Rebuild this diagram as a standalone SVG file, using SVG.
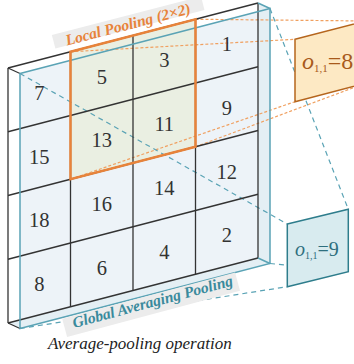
<svg xmlns="http://www.w3.org/2000/svg" width="354" height="364" viewBox="0 0 354 364">
<style>
.num{font-family:"Liberation Serif","Times New Roman",serif;font-size:20.5px;fill:#333;text-anchor:middle}
.grid{stroke:#333;stroke-width:1.3;fill:none}
.teal{stroke:#5aa3b5;stroke-width:1.5;fill:none}
.odash{stroke:#f0a060;stroke-width:1.2;stroke-dasharray:3 2;fill:none}
.tdash{stroke:#5aa3b5;stroke-width:1.2;stroke-dasharray:5 4;fill:none}
.lbl{font-family:"Liberation Serif","Times New Roman",serif;font-weight:bold;font-style:italic}
.band{fill:#ececec}
.serif{font-family:"Liberation Serif","Times New Roman",serif}
</style>
<g id="slab">
  <polygon points="20,73.5 270,8.5 270,263.5 20,328.5" fill="#edf3f8"/>
  <polygon points="258,3 270,8.5 270,263.5 258,258" fill="#e4eff4"/>
  <polygon points="8,323 258,258 270,263.5 20,328.5" fill="#e4eff4"/>
  <polygon points="70.5,51.75 195.5,19.25 195.5,146.75 70.5,179.25" fill="#eaefe2"/>
</g>
<g id="connectors">
  <line class="odash" x1="70.5" y1="51.75" x2="295" y2="39.3"/>
  <line class="odash" x1="195.5" y1="19.25" x2="366" y2="21"/>
  <line class="odash" x1="70.5" y1="179.25" x2="295" y2="101.7"/>
  <line class="odash" x1="195.5" y1="146.75" x2="366" y2="83"/>
  <line class="tdash" x1="20" y1="73.5" x2="287.3" y2="224"/>
  <line class="tdash" x1="270" y1="8.5" x2="348.3" y2="209.3"/>
  <line class="tdash" x1="270" y1="263.5" x2="348.3" y2="271.7"/>
  <line class="tdash" x1="20" y1="328.5" x2="287.3" y2="286.7"/>
</g>
<g id="grid">
  <g class="grid">
    <line x1="8" y1="68" x2="258" y2="3"/>
    <line x1="8" y1="131.75" x2="258" y2="66.75"/>
    <line x1="8" y1="195.5" x2="258" y2="130.5"/>
    <line x1="8" y1="259.25" x2="258" y2="194.25"/>
    <line x1="8" y1="323" x2="258" y2="258"/>
    <line x1="8" y1="68" x2="8" y2="323"/>
    <line x1="70.5" y1="51.75" x2="70.5" y2="306.75"/>
    <line x1="133" y1="35.5" x2="133" y2="290.5"/>
    <line x1="195.5" y1="19.25" x2="195.5" y2="274.25"/>
    <line x1="258" y1="3" x2="258" y2="258"/>
    <line x1="8" y1="68" x2="20" y2="73.5"/>
    <line x1="8" y1="323" x2="20" y2="328.5"/>
  </g>
  <g class="teal">
    <polygon points="20,73.5 270,8.5 270,263.5 20,328.5"/>
    <line x1="258" y1="3" x2="270" y2="8.5"/>
    <line x1="258" y1="258" x2="270" y2="263.5"/>
  </g>
  <polygon points="70.5,51.75 195.5,19.25 195.5,146.75 70.5,179.25" fill="none" stroke="#e8833a" stroke-width="2.5"/>
</g>
<g id="values">
  <text class="num" x="39.25" y="99.75">7</text>
  <text class="num" x="101.75" y="83.5">5</text>
  <text class="num" x="164.25" y="67.25">3</text>
  <text class="num" x="226.75" y="51">1</text>
  <text class="num" x="39.25" y="163.5">15</text>
  <text class="num" x="101.75" y="147.25">13</text>
  <text class="num" x="164.25" y="131">11</text>
  <text class="num" x="226.75" y="114.75">9</text>
  <text class="num" x="39.25" y="227.25">18</text>
  <text class="num" x="101.75" y="211">16</text>
  <text class="num" x="164.25" y="194.75">14</text>
  <text class="num" x="226.75" y="178.5">12</text>
  <text class="num" x="39.25" y="291">8</text>
  <text class="num" x="101.75" y="274.75">6</text>
  <text class="num" x="164.25" y="258.5">4</text>
  <text class="num" x="226.75" y="242.25">2</text>
</g>
<g id="local-label" transform="translate(67,45.5) rotate(-14.5)">
  <polygon class="band" points="-12,-14 142,-14 142,0 -12,0"/>
  <text class="lbl" x="0" y="0" font-size="15.5" fill="#e8833a">Local Pooling (2×2)</text>
</g>
<g id="global-label" transform="translate(74,328) rotate(-15)">
  <polygon class="band" points="-9,-12 170,-12 170,7 -9,7"/>
  <text class="lbl" x="0" y="0" font-size="15.5" fill="#3a8a9c">Global Averaging Pooling</text>
</g>
<g id="local-output">
  <polygon points="295,39.3 366,21 366,83 295,101.7" fill="#fde9c4" stroke="#b5651d" stroke-width="1.5"/>
  <text class="serif" x="302" y="69" font-size="24" fill="#a85a1c"><tspan font-style="italic">o</tspan><tspan font-size="11" dy="3">1,1</tspan><tspan dy="-3">=8</tspan></text>
</g>
<g id="global-output">
  <polygon points="287.3,224 348.3,209.3 348.3,271.7 287.3,286.7" fill="#d8ebef" stroke="#2e7d8c" stroke-width="1.5"/>
  <text class="serif" x="295" y="256" font-size="20" fill="#2e6f7e"><tspan font-style="italic">o</tspan><tspan font-size="10" dy="3">1,1</tspan><tspan dy="-3">=9</tspan></text>
</g>
<text class="serif" x="48" y="349" font-size="17" font-style="italic" fill="#222">Average-pooling operation</text>
</svg>
